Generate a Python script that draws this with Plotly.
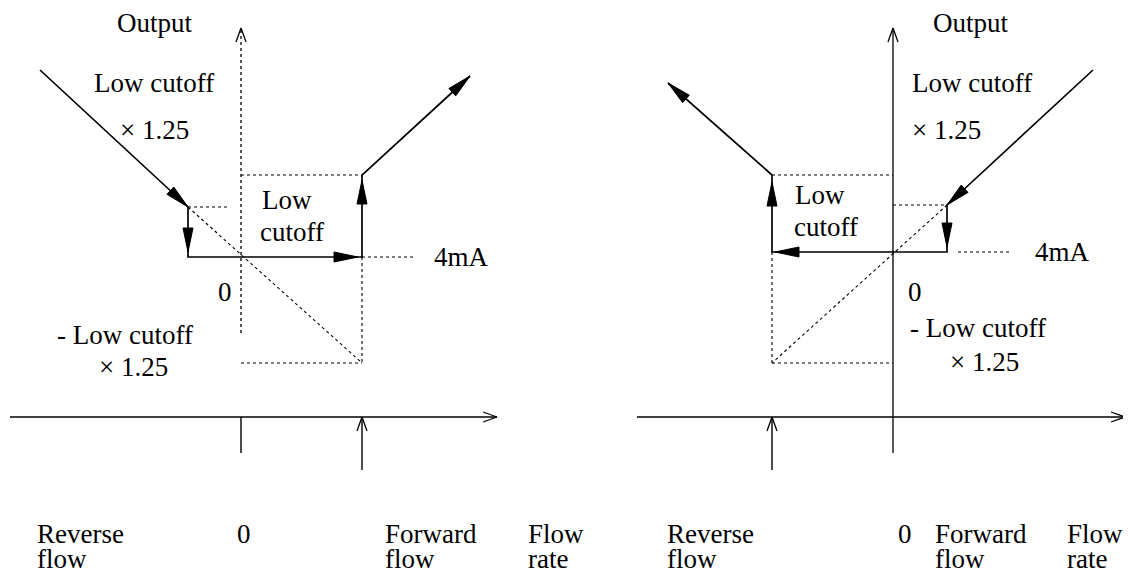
import numpy as np
import plotly.graph_objects as go


# ------------------------------------------------
# DIAGRAM DATA (flow / output units, origin at the axis crossing)
# ------------------------------------------------
# left panel: output falls for reverse flow, rises for forward flow
left_path_x = [-201, -53, -53, 121, 121, 229]
left_path_y = [187, 50, 0, 0, 82, 181]
left_heads = [((-53, 50), (-201, 187)), ((-53, 5), (-53, 50)),
              ((117, 0), (-53, 0)), ((121, 77), (121, 0)),
              ((229, 181), (121, 82))]
left_dotted = [([-53, -13], [50, 50]), ([0, 121], [82, 82]),
               ([121, 172], [0, 0]), ([-53, 121], [50, -106]),
               ([121, 121], [0, -106]), ([0, 121], [-106, -106])]
left_yaxis = ([0, 0], [-76, 229])
left_xaxis = ([-231, 256], [-160, -160])
left_tick = ([0, 0], [-160, -196])
left_marker = ([121, 121], [-213, -160])

# right panel: mirror image
right_path_x = [200, 54, 54, -121, -121, -225]
right_path_y = [182, 47, 0, 0, 77, 169]
right_heads = [((54, 47), (200, 182)), ((54, 5), (54, 47)),
               ((-118, 0), (54, 0)), ((-121, 70), (-121, 0)),
               ((-225, 169), (-121, 77))]
right_dotted = [([0, 54], [47, 47]), ([-121, 0], [77, 77]),
                ([65, 117], [0, 0]), ([54, -121], [47, -111]),
                ([-121, -121], [0, -111]), ([-121, 0], [-111, -111])]
right_yaxis = ([0, 0], [-201, 224])
right_xaxis = ([-256, 232], [-165, -165])
right_marker = ([-121, -121], [-218, -165])

# text labels: (text, x, y)
left_labels = [("Output", -126, 234), ("Low cutoff", -149, 174),
               ("\u00d7 1.25", -123, 127), ("Low", 19, 57),
               ("cutoff", 17, 25), ("4mA", 191, 0), ("0", -25, -35),
               ("- Low cutoff", -186, -78), ("\u00d7 1.25", -144, -110),
               ("Reverse", -206, -277), ("flow", -206, -302),
               ("0", -6, -277), ("Forward", 142, -277),
               ("flow", 142, -302), ("Flow", 285, -277),
               ("rate", 285, -302)]
right_labels = [("Output", 38, 229), ("Low cutoff", 17, 169),
                ("\u00d7 1.25", 17, 122), ("Low", -100, 57),
                ("cutoff", -101, 25), ("4mA", 140, 0), ("0", 13, -40),
                ("- Low cutoff", 15, -76), ("\u00d7 1.25", 55, -110),
                ("Reverse", -228, -282), ("flow", -228, -307),
                ("0", 3, -282), ("Forward", 40, -282),
                ("flow", 40, -307), ("Flow", 172, -282),
                ("rate", 172, -307)]

FONT = dict(family="Liberation Serif, Times New Roman, serif", size=27, color="black")


def head_poly(tip, tail, length=24, half=5):
    t = np.array(tip, float)
    d = t - np.array(tail, float)
    d /= np.linalg.norm(d)
    n = np.array([-d[1], d[0]])
    b = t - length * d
    p1, p2 = b + half * n, b - half * n
    return [t[0], p1[0], p2[0], t[0]], [t[1], p1[1], p2[1], t[1]]


def open_head(x, y, length=14, half=5):
    t = np.array([x[1], y[1]], float)
    d = t - np.array([x[0], y[0]], float)
    d /= np.linalg.norm(d)
    n = np.array([-d[1], d[0]])
    b = t - length * d
    p1, p2 = b + half * n, b - half * n
    return [p1[0], t[0], p2[0]], [p1[1], t[1], p2[1]]


def line(fig, x, y, xa, ya, dash="solid", width=1.6):
    fig.add_trace(go.Scatter(x=x, y=y, xaxis=xa, yaxis=ya, mode="lines",
                             line=dict(color="black", width=width, dash=dash),
                             hoverinfo="skip", showlegend=False))


def panel(fig, xa, ya, path_x, path_y, heads, dotted, yaxis, yaxis_dash,
          xaxis, marker, labels, tick=None):
    line(fig, *yaxis, xa, ya, dash=yaxis_dash, width=1.3)
    line(fig, *open_head(*yaxis), xa, ya, width=1.3)
    line(fig, *xaxis, xa, ya, width=1.6)
    line(fig, *open_head(*xaxis), xa, ya, width=1.3)
    line(fig, *marker, xa, ya, width=1.4)
    line(fig, *open_head(*marker), xa, ya, width=1.3)
    if tick:
        line(fig, *tick, xa, ya, width=1.4)
    for dx, dy in dotted:
        line(fig, dx, dy, xa, ya, dash="dot", width=1.1)
    line(fig, path_x, path_y, xa, ya, width=1.7)
    for tip, tail in heads:
        hx, hy = head_poly(tip, tail)
        fig.add_trace(go.Scatter(x=hx, y=hy, xaxis=xa, yaxis=ya, mode="lines",
                                 fill="toself", fillcolor="black",
                                 line=dict(color="black", width=1),
                                 hoverinfo="skip", showlegend=False))
    for text, tx, ty in labels:
        fig.add_annotation(text=text, x=tx, y=ty, xref=xa, yref=ya,
                           showarrow=False, xanchor="left", yanchor="middle",
                           font=FONT)


fig = go.Figure()

panel(fig, "x", "y", left_path_x, left_path_y, left_heads, left_dotted,
      left_yaxis, "dot", left_xaxis, left_marker, left_labels, tick=left_tick)
panel(fig, "x2", "y2", right_path_x, right_path_y, right_heads, right_dotted,
      right_yaxis, "solid", right_xaxis, right_marker, right_labels)

hidden = dict(visible=False, showgrid=False, zeroline=False, fixedrange=True)

# the page body adds an 8px margin, so the figure is shrunk by 8px
# and the ranges are offset to keep everything in the window
fig.update_layout(
    width=1123,
    height=566,
    margin=dict(l=0, r=0, t=0, b=0),
    paper_bgcolor="white",
    plot_bgcolor="white",
    xaxis=dict(domain=[0, 0.5], range=[-233, 328.5], **hidden),
    yaxis=dict(domain=[0, 1], range=[-317, 249], **hidden),
    xaxis2=dict(domain=[0.5, 1], range=[-323.5, 238], **hidden),
    yaxis2=dict(domain=[0, 1], range=[-322, 244], anchor="x2", **hidden),
)

fig.write_html("out.html")
